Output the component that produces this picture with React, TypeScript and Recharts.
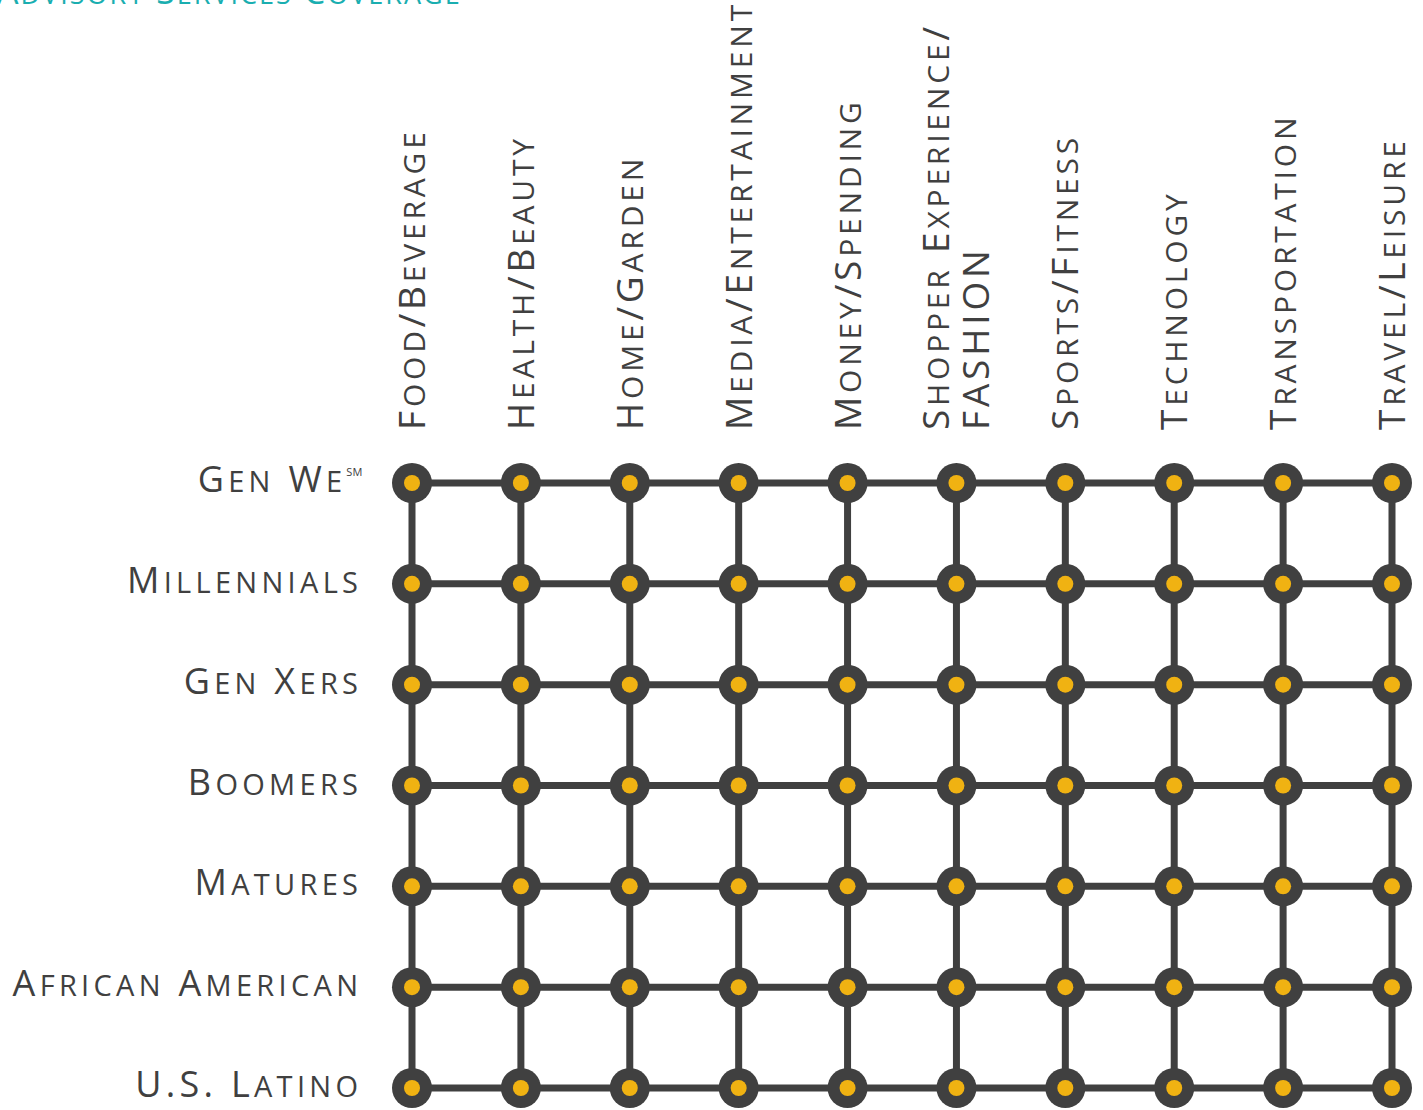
import React from 'react';
import { ScatterChart, Scatter, XAxis, YAxis, CartesianGrid } from 'recharts';

// ---- data ----
const categories: string[] = [
  'Food/Beverage',
  'Health/Beauty',
  'Home/Garden',
  'Media/Entertainment',
  'Money/Spending',
  'Shopper Experience/\nFASHION',
  'Sports/Fitness',
  'Technology',
  'Transportation',
  'Travel/Leisure',
];
const segments: string[] = [
  'Gen We',
  'Millennials',
  'Gen Xers',
  'Boomers',
  'Matures',
  'African American',
  'U.S. Latino',
];
const segmentMarks: string[] = ['SM', '', '', '', '', '', ''];
// 1 = covered (every segment covers every category)
const coverage: number[][] = [
  [1, 1, 1, 1, 1, 1, 1, 1, 1, 1],
  [1, 1, 1, 1, 1, 1, 1, 1, 1, 1],
  [1, 1, 1, 1, 1, 1, 1, 1, 1, 1],
  [1, 1, 1, 1, 1, 1, 1, 1, 1, 1],
  [1, 1, 1, 1, 1, 1, 1, 1, 1, 1],
  [1, 1, 1, 1, 1, 1, 1, 1, 1, 1],
  [1, 1, 1, 1, 1, 1, 1, 1, 1, 1],
];
const title = 'Advisory Services Coverage';

const points = coverage.flatMap((row, r) =>
  row.map((v, c) => ({ col: c, row: r, v })).filter((p) => p.v === 1)
);

// ---- styles ----
const DARK = '#404040';
const YELLOW = '#f0b212';
const TEAL = '#1aaeb0';
const FONT = "'Open Sans', 'Noto Sans', sans-serif";
const X_AXIS_H = 40;
const Y_AXIS_W = 40;
const ROW_LS = 4.3;
const COL_LS = 3.8;

function smallCaps(text: string, big: number, small: number) {
  const parts: { t: string; s: number }[] = [];
  for (const ch of text) {
    const isLower = ch !== ch.toUpperCase();
    const s = isLower ? small : big;
    const t = ch.toUpperCase();
    const last = parts[parts.length - 1];
    if (last && last.s === s) last.t += t;
    else parts.push({ t, s });
  }
  return parts.map((p, i) => (
    <tspan key={i} fontSize={p.s}>
      {p.t}
    </tspan>
  ));
}

const renderXTick = (props: any) => {
  const { x, payload } = props;
  const label = categories[payload.value] || '';
  const lines = label.split('\n');
  const n = lines.length;
  return (
    <g>
      {lines.map((l, i) => {
        const bx = x + 13 + (i - (n - 1) / 2) * 40;
        return (
          <text
            key={i}
            transform={`translate(${bx},430) rotate(-90)`}
            textAnchor="start"
            fill={DARK}
            fontFamily={FONT}
            letterSpacing={COL_LS}
          >
            {smallCaps(l, 37, 30)}
          </text>
        );
      })}
    </g>
  );
};

const renderYTick = (props: any) => {
  const { y, payload } = props;
  const idx = payload.value;
  const label = segments[idx] || '';
  const mark = segmentMarks[idx];
  return (
    <text
      x={358 + ROW_LS}
      y={y + 9}
      textAnchor="end"
      fill={DARK}
      fontFamily={FONT}
      letterSpacing={ROW_LS}
    >
      {smallCaps(label, 36, 29)}
      {mark ? (
        <tspan fontSize={11} dy={-16} letterSpacing={0}>
          {mark}
        </tspan>
      ) : null}
    </text>
  );
};

const renderNode = (props: any) => {
  const { cx, cy } = props;
  return (
    <g>
      <circle cx={cx} cy={cy} r={20} fill={DARK} />
      <circle cx={cx} cy={cy} r={8} fill={YELLOW} />
    </g>
  );
};

export default function App() {
  return (
    <div style={{ position: 'absolute', left: 0, top: 0, width: 1423, height: 1110, background: '#fff' }}>
      <ScatterChart
        width={1423}
        height={1110}
        margin={{ top: 483 - X_AXIS_H, right: 31, bottom: 22, left: 412 - Y_AXIS_W }}
      >
        <CartesianGrid stroke={DARK} strokeWidth={7} />
        <XAxis
          type="number"
          dataKey="col"
          orientation="top"
          domain={[0, categories.length - 1]}
          ticks={categories.map((_, i) => i)}
          interval={0}
          height={X_AXIS_H}
          axisLine={false}
          tickLine={false}
          tick={renderXTick}
        />
        <YAxis
          type="number"
          dataKey="row"
          reversed
          domain={[0, segments.length - 1]}
          ticks={segments.map((_, i) => i)}
          interval={0}
          width={Y_AXIS_W}
          axisLine={false}
          tickLine={false}
          tick={renderYTick}
        />
        <Scatter data={points} shape={renderNode} isAnimationActive={false} />
      </ScatterChart>
      <svg
        width={1423}
        height={40}
        style={{ position: 'absolute', left: 0, top: 0, pointerEvents: 'none' }}
      >
        <text x={-3} y={4} fill={TEAL} fontFamily={FONT} letterSpacing={2}>
          {smallCaps(title, 34, 27)}
        </text>
      </svg>
    </div>
  );
}
